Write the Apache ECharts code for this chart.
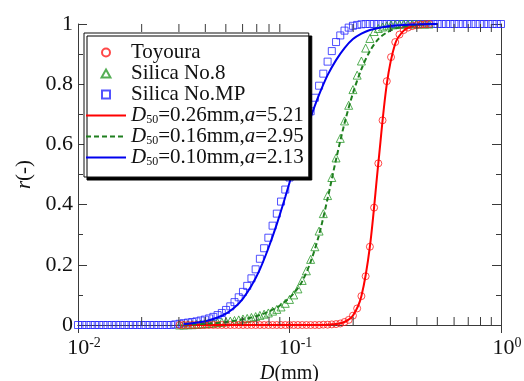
<!DOCTYPE html>
<html>
<head>
<meta charset="utf-8">
<script src="https://cdn.jsdelivr.net/npm/echarts@6/dist/echarts.min.js"></script>
<style>
  html, body { margin: 0; padding: 0; background: #fff; }
  #chart { width: 524px; height: 381px; }
</style>
</head>
<body>
<div id="chart"></div>
<script>
// particle diameters D (mm), log spaced measurement bins
const diam = [
  0.01, 0.01047, 0.01096, 0.01148, 0.01202, 0.01259, 0.01318, 0.0138, 0.01445, 0.01514,
  0.01585, 0.0166, 0.01738, 0.0182, 0.01905, 0.01995, 0.02089, 0.02188, 0.02291, 0.02399,
  0.02512, 0.0263, 0.02754, 0.02884, 0.0302, 0.03162, 0.03311, 0.03467, 0.03631, 0.03802,
  0.03981, 0.04169, 0.04365, 0.04571, 0.04786, 0.05012, 0.05248, 0.05495, 0.05754, 0.06026,
  0.0631, 0.06607, 0.06918, 0.07244, 0.07586, 0.07943, 0.08318, 0.0871, 0.0912, 0.0955,
  0.1, 0.1047, 0.1096, 0.1148, 0.1202, 0.1259, 0.1318, 0.138, 0.1445, 0.1514,
  0.1585, 0.166, 0.1738, 0.182, 0.1905, 0.1995, 0.2089, 0.2188, 0.2291, 0.2399,
  0.2512, 0.263, 0.2754, 0.2884, 0.302, 0.3162, 0.3311, 0.3467, 0.3631, 0.3802,
  0.3981, 0.4169, 0.4365, 0.4571, 0.4786, 0.5012, 0.5248, 0.5495, 0.5754, 0.6026,
  0.631, 0.6607, 0.6918, 0.7244, 0.7586, 0.7943, 0.8318, 0.871, 0.912, 0.955,
  1.0
];

// Silica No.MP: every bin of diam
const silicaMPR = [
  0, 0, 0, 0, 0, 0, 0, 0, 0, 0,
  0, 0, 0, 0, 0, 0, 0, 0, 0, 0,
  0, 0, 0, 0.002, 0.004, 0.006, 0.008, 0.01, 0.012, 0.015,
  0.018, 0.022, 0.027, 0.033, 0.04, 0.05, 0.062, 0.076, 0.092, 0.11,
  0.13, 0.155, 0.185, 0.22, 0.255, 0.29, 0.33, 0.37, 0.41, 0.45,
  0.49, 0.535, 0.58, 0.625, 0.67, 0.71, 0.755, 0.795, 0.835, 0.875,
  0.91, 0.94, 0.962, 0.978, 0.988, 0.994, 0.997, 0.999, 1, 1,
  1, 1, 1, 1, 1, 1, 1, 1, 1, 1,
  1, 1, 1, 1, 1, 1, 1, 1, 1, 1,
  1, 1, 1, 1, 1, 1, 1, 1, 1, 1,
  1
];

// Toyoura and Silica No.8: bins diam[24] .. diam[83]
const sampleStart = 24;
const toyouraR = [
  0, 0, 0, 0, 0, 0,
  0, 0, 0, 0, 0, 0, 0, 0, 0, 0,
  0, 0, 0, 0, 0, 0, 0, 0, 0, 0,
  0, 0, 0, 0, 0, 0, 0, 0, 0.001, 0.001,
  0.002, 0.003, 0.005, 0.01, 0.017, 0.031, 0.055, 0.096, 0.162, 0.26,
  0.39, 0.537, 0.68, 0.81, 0.89, 0.94, 0.965, 0.98, 0.988, 0.993,
  0.996, 0.998, 0.999, 1
];
const silica8R = [
  0, 0, 0.001, 0.001, 0.002, 0.003,
  0.004, 0.005, 0.006, 0.008, 0.009, 0.011, 0.013, 0.015, 0.017, 0.02,
  0.022, 0.025, 0.028, 0.032, 0.036, 0.04, 0.046, 0.052, 0.06, 0.072,
  0.085, 0.1, 0.12, 0.148, 0.18, 0.218, 0.26, 0.312, 0.37, 0.43,
  0.49, 0.555, 0.62, 0.678, 0.73, 0.782, 0.83, 0.877, 0.92, 0.952,
  0.975, 0.985, 0.99, 0.994, 0.997, 0.998, 0.999, 1, 1, 1,
  1, 1, 1, 1
];

// fitted curves, at diam[25], diam[27], ... diam[85]
const fitStart = 25;
const fitToyoura = [
  0, 0, 0, 0, 0, 0, 0, 0, 0, 0, 0, 0, 0, 0, 0, 0, 0,
  0.001, 0.003, 0.01, 0.031, 0.096, 0.26, 0.537, 0.8, 0.935, 0.978, 0.993, 0.998, 1, 1
];
const fitSilica8 = [
  0.001, 0.002, 0.003, 0.005, 0.007, 0.01, 0.014, 0.019, 0.025, 0.033,
  0.044, 0.058, 0.078, 0.105, 0.145, 0.21, 0.3, 0.42, 0.55, 0.67,
  0.77, 0.85, 0.91, 0.95, 0.972, 0.985, 0.992, 0.996, 0.998, 0.999, 1
];
const fitSilicaMP = [
  0.003, 0.006, 0.01, 0.016, 0.025, 0.038, 0.058, 0.088, 0.13, 0.185,
  0.255, 0.335, 0.425, 0.52, 0.61, 0.69, 0.765, 0.83, 0.88, 0.92,
  0.95, 0.968, 0.98, 0.987, 0.992, 0.995, 0.997, 0.998, 0.999, 1, 1
];

const sampleNames = ['Toyoura', 'Silica No.8', 'Silica No.MP'];
const fitD50 = ['0.26', '0.16', '0.10'];
const fitA = ['5.21', '2.95', '2.13'];
const xMinorTicks = [0.02, 0.03, 0.04, 0.05, 0.06, 0.07, 0.08, 0.09,
                     0.2, 0.3, 0.4, 0.5, 0.6, 0.7, 0.8, 0.9];

const FONT = 'Liberation Serif';
const AXIS = '#3a3a3a';
const RED = '#ff1a1a', GREEN = '#2a9a2a', BLUE = '#2626ff';
// path symbols keep their aspect inside the legend
const SQUARE = 'path://M0,0L10,0L10,10L0,10Z';
const TRIANGLE = 'path://M5,0L10,9L0,9Z';

const chart = echarts.init(document.getElementById('chart'));

const scatter = (name, symbol, size, color, data) => ({
  name, type: 'scatter', symbol, symbolSize: size, clip: false, z: 2,
  itemStyle: { color: 'rgba(255,255,255,0)', borderColor: color, borderWidth: 1 },
  data
});
const fitLine = (name, color, type, values) => ({
  name, type: 'line', symbol: 'none', smooth: 0.3, z: 3,
  lineStyle: { color, width: 2, type },
  itemStyle: { color: 'rgba(0,0,0,0)', borderWidth: 0 },
  data: values.map((r, i) => [diam[fitStart + 2 * i], r])
});

const fitNames = ['fit0', 'fit1', 'fit2'];
const txt = { fontFamily: FONT, color: '#111' };

const option = {
  animation: false,
  textStyle: { fontFamily: FONT, color: '#111' },
  grid: { left: 78, right: 23, top: 24, bottom: 56, outerBoundsMode: 'none', containLabel: false },
  xAxis: [{
    type: 'log', logBase: 10, min: 0.01, max: 1,
    name: '{i|D}(mm)', nameLocation: 'middle', nameGap: 31,
    nameTextStyle: Object.assign({ fontSize: 20,
      rich: { i: Object.assign({ fontSize: 20, fontStyle: 'italic' }, txt) } }, txt),
    axisLine: { lineStyle: { color: AXIS, width: 1 } },
    axisTick: { inside: true, length: 8, lineStyle: { color: AXIS } },
    splitLine: { show: false },
    axisLabel: {
      margin: 11, padding: [0, 0, 0, 12],
      formatter: v => '{b|10}{s|' + Math.round(Math.log10(v)) + '}',
      rich: {
        b: Object.assign({ fontSize: 22, lineHeight: 24 }, txt),
        s: Object.assign({ fontSize: 14, verticalAlign: 'top', lineHeight: 14 }, txt)
      }
    }
  }, {
    type: 'log', logBase: 10, min: 0.01, max: 1, position: 'top',
    axisLine: { lineStyle: { color: AXIS, width: 1 } },
    axisTick: { inside: true, length: 8, lineStyle: { color: AXIS } },
    axisLabel: { show: false }, splitLine: { show: false }
  }],
  yAxis: [{
    type: 'value', min: 0, max: 1, interval: 0.2,
    name: '{i|r}(-)', nameLocation: 'middle', nameGap: 42, nameRotate: 90,
    nameTextStyle: Object.assign({ fontSize: 21,
      rich: { i: Object.assign({ fontSize: 21, fontStyle: 'italic' }, txt) } }, txt),
    axisLine: { show: true, lineStyle: { color: AXIS, width: 1 } },
    axisTick: { show: true, inside: true, length: 9, lineStyle: { color: AXIS } },
    minorTick: { show: true, splitNumber: 2, length: 5, lineStyle: { color: AXIS } },
    splitLine: { show: false },
    axisLabel: Object.assign({ fontSize: 22, margin: 5 }, txt)
  }, {
    type: 'value', min: 0, max: 1, interval: 0.2, position: 'right',
    axisLine: { show: true, lineStyle: { color: AXIS, width: 1 } },
    axisTick: { show: true, inside: true, length: 9, lineStyle: { color: AXIS } },
    minorTick: { show: true, splitNumber: 2, length: 5, lineStyle: { color: AXIS } },
    splitLine: { show: false },
    axisLabel: { show: false }
  }],
  legend: {
    orient: 'vertical', left: 84, top: 33, z: 20,
    data: sampleNames.concat(fitNames),
    itemWidth: 40, itemHeight: 8, itemGap: 0,
    padding: [9, 5, 9, 1],
    backgroundColor: '#fff', borderColor: '#111', borderWidth: 1,
    shadowColor: '#000', shadowBlur: 0, shadowOffsetX: 3, shadowOffsetY: 3,
    selectedMode: false,
    formatter: name => {
      const i = fitNames.indexOf(name);
      if (i < 0) return '{n|' + name + '}';
      return '{i|D}{sub|50}{n|=' + fitD50[i] + 'mm,}{i|a}{n|=' + fitA[i] + '}';
    },
    textStyle: Object.assign({
      fontSize: 21, lineHeight: 21,
      rich: {
        n: Object.assign({ fontSize: 21, lineHeight: 21 }, txt),
        i: Object.assign({ fontSize: 21, fontStyle: 'italic', lineHeight: 21 }, txt),
        sub: Object.assign({ fontSize: 12, verticalAlign: 'bottom', lineHeight: 12 }, txt)
      }
    }, txt)
  },
  series: [
    scatter(sampleNames[2], SQUARE, 7, BLUE, silicaMPR.map((r, i) => [diam[i], r])),
    scatter(sampleNames[1], TRIANGLE, 8, GREEN, silica8R.map((r, i) => [diam[sampleStart + i], r])),
    scatter(sampleNames[0], 'circle', 7, RED, toyouraR.map((r, i) => [diam[sampleStart + i], r])),
    fitLine(fitNames[0], '#ff0000', 'solid', fitToyoura),
    fitLine(fitNames[1], '#1f7f1f', [5, 3], fitSilica8),
    fitLine(fitNames[2], '#0000ee', 'solid', fitSilicaMP),
    {
      // minor ticks of the log axis (2..9 per decade), top and bottom
      type: 'custom', silent: true, z: 6,
      data: xMinorTicks.map(v => [v, 0]),
      renderItem: (params, api) => {
        const v = api.value(0);
        const b = api.coord([v, 0]);
        const t = api.coord([v, 1]);
        const st = { stroke: AXIS, lineWidth: 1 };
        return { type: 'group', children: [
          { type: 'line', shape: { x1: b[0], y1: b[1], x2: b[0], y2: b[1] - 8 }, style: st },
          { type: 'line', shape: { x1: t[0], y1: t[1], x2: t[0], y2: t[1] + 8 }, style: st }
        ] };
      }
    }
  ]
};

chart.setOption(option);
window.addEventListener('resize', () => chart.resize());
</script>
</body>
</html>
